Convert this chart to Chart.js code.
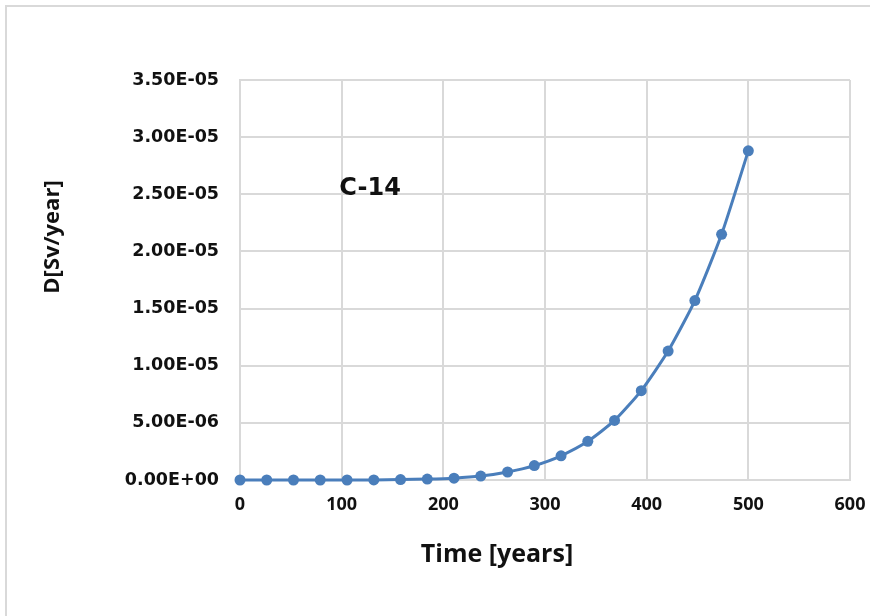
<!DOCTYPE html>
<html>
<head>
<meta charset="utf-8">
<script src="https://cdn.jsdelivr.net/npm/chart.js@4"></script>
<style>
  html, body { margin: 0; padding: 0; background: #fff; }
  #wrap { width: 870px; height: 616px; }
</style>
</head>
<body>
<div id="wrap"><canvas id="doseChart" width="870" height="616"></canvas></div>
<script>
// C-14 dose vs time
const timeYears = [0, 26.3, 52.6, 78.9, 105.3, 131.6, 157.9, 184.2, 210.5, 236.8,
                   263.2, 289.5, 315.8, 342.1, 368.4, 394.7, 421.1, 447.4, 473.7, 500];
const doseSv = [0, 0, 0, 0, 0, 0.01e-6, 0.04e-6, 0.08e-6, 0.16e-6, 0.34e-6,
                0.70e-6, 1.26e-6, 2.12e-6, 3.38e-6, 5.21e-6, 7.82e-6, 11.28e-6, 15.7e-6, 21.5e-6, 28.8e-6];
const xTicks = [0, 100, 200, 300, 400, 500, 600];
const yTicks = [0, 5e-6, 1e-5, 1.5e-5, 2e-5, 2.5e-5, 3e-5, 3.5e-5];
const seriesLabel = 'C-14';
const xTitle = 'Time [years]';
const yTitle = 'D[Sv/year]';

const lineColor = '#4a7ebb';
const gridColor = '#d9d9d9';

// Excel style scientific labels, e.g. 3.50E-05
function sciLabel(v) {
    if (v === 0) return '0.00E+00';
    let parts = v.toExponential(2).split('e');
    let exp = parseInt(parts[1], 10);
    let sign = exp < 0 ? '-' : '+';
    let digits = String(Math.abs(exp)).padStart(2, '0');
    return parts[0] + 'E' + sign + digits;
}

// frame, axis titles and the series tag
const decorations = {
    id: 'decorations',
    beforeDraw(chart) {
        const ctx = chart.ctx;
        ctx.save();
        ctx.fillStyle = '#fff';
        ctx.fillRect(0, 0, chart.width, chart.height);
        ctx.strokeStyle = gridColor;
        ctx.lineWidth = 2;
        ctx.strokeRect(6, 6, chart.width + 20, chart.height + 20);
        ctx.restore();
    },
    afterDraw(chart) {
        const ctx = chart.ctx;
        const x = chart.scales.x, y = chart.scales.y;
        ctx.save();
        ctx.fillStyle = '#111';
        ctx.textAlign = 'center';
        ctx.textBaseline = 'middle';

        ctx.font = 'bold 24px "DejaVu Sans"';
        ctx.fillText(seriesLabel, x.getPixelForValue(128), y.getPixelForValue(2.55e-5));

        ctx.font = 'bold 25px "Open Sans"';
        ctx.fillText(xTitle, 497, 555);

        ctx.translate(53, 237);
        ctx.rotate(-Math.PI / 2);
        ctx.font = 'bold 22px "Open Sans"';
        ctx.fillText(yTitle, 0, 0);
        ctx.restore();
    }
};

const ctx = document.getElementById('doseChart').getContext('2d');
const chart = new Chart(ctx, {
    type: 'line',
    data: {
        datasets: [{
            label: seriesLabel,
            data: timeYears.map((t, i) => ({ x: t, y: doseSv[i] })),
            borderColor: lineColor,
            backgroundColor: lineColor,
            borderWidth: 3,
            pointRadius: 5.5,
            pointHoverRadius: 5.5,
            pointBorderWidth: 0,
            tension: 0.2,
            fill: false,
            clip: false
        }]
    },
    options: {
        responsive: false,
        animation: false,
        layout: { padding: { top: 80, right: 20, left: 0, bottom: 0 } },
        plugins: {
            legend: { display: false },
            tooltip: { enabled: false }
        },
        scales: {
            x: {
                type: 'linear',
                min: 0,
                max: 600,
                afterBuildTicks: (scale) => { scale.ticks = xTicks.map(v => ({ value: v })); },
                afterFit: (scale) => {
                    scale.height = 136;
                    scale.paddingLeft = 0;
                    scale.paddingRight = 0;
                },
                grid: { color: gridColor, lineWidth: 2, drawTicks: false },
                border: { color: gridColor, width: 2 },
                ticks: {
                    padding: 14,
                    color: '#111',
                    font: { family: 'Open Sans', size: 18, weight: 'bold' },
                    maxRotation: 0
                }
            },
            y: {
                type: 'linear',
                min: 0,
                max: 3.5e-5,
                afterBuildTicks: (scale) => { scale.ticks = yTicks.map(v => ({ value: v })); },
                afterFit: (scale) => { scale.width = 240; },
                grid: { color: gridColor, lineWidth: 2, drawTicks: false },
                border: { color: gridColor, width: 2 },
                ticks: {
                    padding: 21,
                    color: '#111',
                    font: { family: 'DejaVu Sans', size: 17.5, weight: 'bold' },
                    callback: (v) => sciLabel(v)
                }
            }
        }
    },
    plugins: [decorations]
});
</script>
</body>
</html>
